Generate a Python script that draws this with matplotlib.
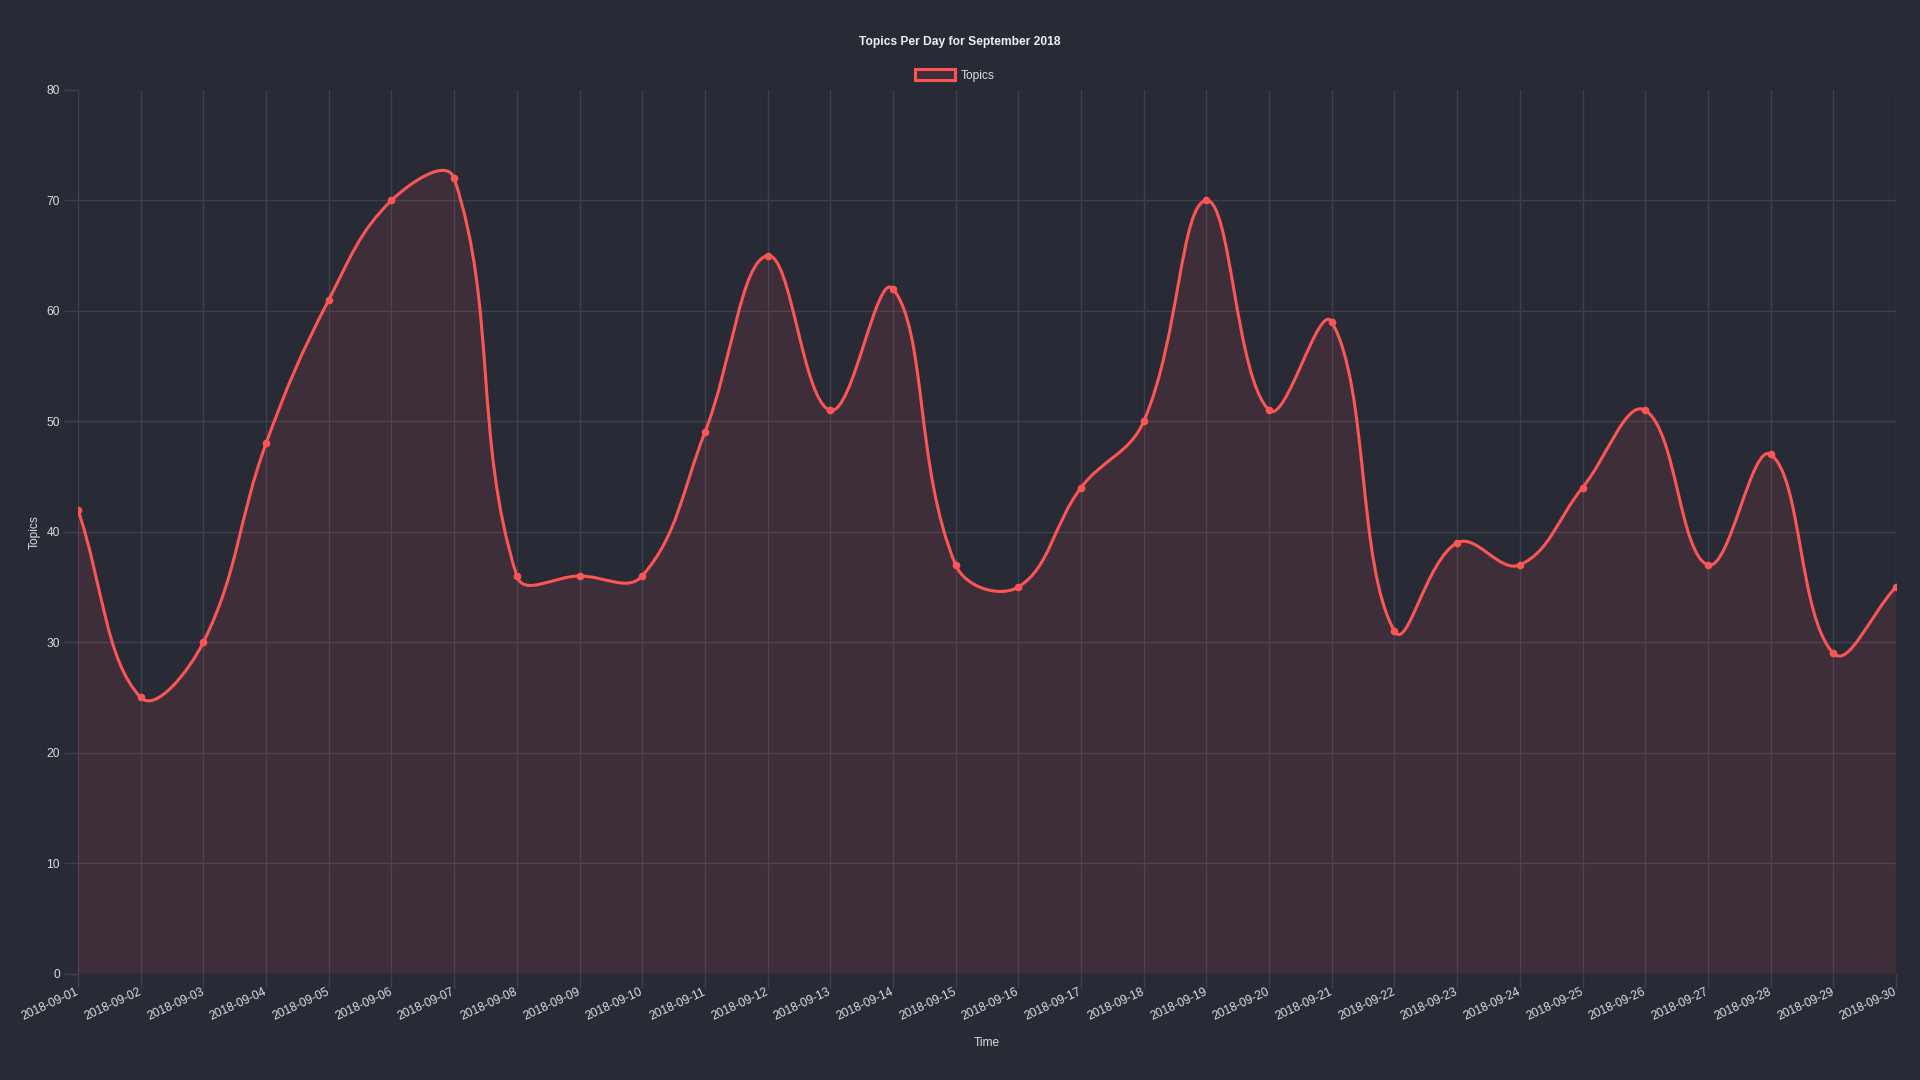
import numpy as np
import matplotlib
matplotlib.use('Agg')
import matplotlib.pyplot as plt
from matplotlib.path import Path
from matplotlib.patches import PathPatch, Patch

# Data
dates = ['2018-09-%02d' % d for d in range(1, 31)]
topics = [42, 25, 30, 48, 61, 70, 72, 36, 36, 36, 49, 65, 51, 62, 37,
          35, 44, 50, 70, 51, 59, 31, 39, 37, 44, 51, 37, 47, 29, 35]
y_ticks = [0, 10, 20, 30, 40, 50, 60, 70, 80]

bg = '#282a36'
grid_col = '#3e404d'
line_col = '#ff5555'
text_col = '#dcdcdc'

plt.rcParams['font.family'] = ['Liberation Sans', 'DejaVu Sans']
fs = 8.64  # 12px at 100 dpi

fig = plt.figure(figsize=(19.2, 10.8), dpi=100, facecolor=bg)
W, H = 1920, 1080
left, right, top, bottom = 78, 1896, 90, 973.5
ax = fig.add_axes([left / W, (H - bottom) / H, (right - left) / W, (bottom - top) / H])
ax.set_facecolor(bg)

x = np.arange(len(dates))
ax.set_xlim(0, len(dates) - 1)
ax.set_ylim(0, 80)

# Chart.js style bezier (tension 0.4), computed in pixel space
pts = ax.transData.transform(np.column_stack([x, topics]))
t = 0.4
n = len(pts)
cp_prev = np.zeros_like(pts)
cp_next = np.zeros_like(pts)
for i in range(n):
    prev = pts[i - 1] if i > 0 else pts[i]
    cur = pts[i]
    nxt = pts[i + 1] if i < n - 1 else pts[i]
    d01 = np.hypot(*(cur - prev))
    d12 = np.hypot(*(nxt - cur))
    tot = d01 + d12
    s01 = d01 / tot if tot else 0
    s12 = d12 / tot if tot else 0
    cp_prev[i] = cur - t * s01 * (nxt - prev)
    cp_next[i] = cur + t * s12 * (nxt - prev)
inv = ax.transData.inverted()
cp_prev = inv.transform(cp_prev)
cp_next = inv.transform(cp_next)
data = np.column_stack([x, topics]).astype(float)

verts = [data[0]]
codes = [Path.MOVETO]
for i in range(1, n):
    verts += [cp_next[i - 1], cp_prev[i], data[i]]
    codes += [Path.CURVE4] * 3
line_path = Path(verts, codes)
fill_path = Path(verts + [(x[-1], 0), (x[0], 0), data[0]],
                 codes + [Path.LINETO, Path.LINETO, Path.CLOSEPOLY])

ax.add_patch(PathPatch(fill_path, facecolor=line_col, alpha=0.1, edgecolor='none', zorder=2))
ax.add_patch(PathPatch(line_path, facecolor='none', edgecolor=line_col, lw=2.2, zorder=3,
                       capstyle='round', joinstyle='round'))
ax.plot(x, topics, 'o', color=line_col, ms=4.5, zorder=4)

# axes styling
ax.set_xticks(x)
ax.set_xticklabels(dates, rotation=25, ha='right', va='center', rotation_mode='anchor')
ax.set_yticks(y_ticks)
ax.tick_params(axis='both', colors=grid_col, labelcolor=text_col, labelsize=fs,
               length=10, width=1)
ax.tick_params(axis='x', pad=3)
ax.tick_params(axis='y', pad=3)
ax.grid(True, color=grid_col, lw=1, zorder=1)
ax.get_ygridlines()[-1].set_visible(False)
ax.set_axisbelow(True)
for s in ax.spines.values():
    s.set_visible(False)

ax.set_xlabel('Time', color=text_col, fontsize=fs)
ax.xaxis.set_label_coords(0.5, (bottom - 1043) / (bottom - top))
ax.xaxis.label.set_va('center')
ax.set_ylabel('Topics', color=text_col, fontsize=fs)
ax.yaxis.set_label_coords((35 - left) / (right - left), 0.5)
ax.yaxis.label.set_va('center')

fig.text(960 / W, 1 - 42 / H, 'Topics Per Day for September 2018', color='#f0f0f0',
         fontsize=fs, fontweight='bold', ha='center', va='center')

handle = Patch(facecolor=(1, 85 / 255, 85 / 255, 0.1), edgecolor=line_col, lw=2.2)
fig.legend([handle], ['Topics'], loc='center', bbox_to_anchor=(955 / W, 1 - 75.5 / H),
           frameon=False, fontsize=fs, labelcolor=text_col, handlelength=3.3,
           handleheight=1.0, handletextpad=0.5)

fig.savefig('out.png', dpi=100, facecolor=bg)
